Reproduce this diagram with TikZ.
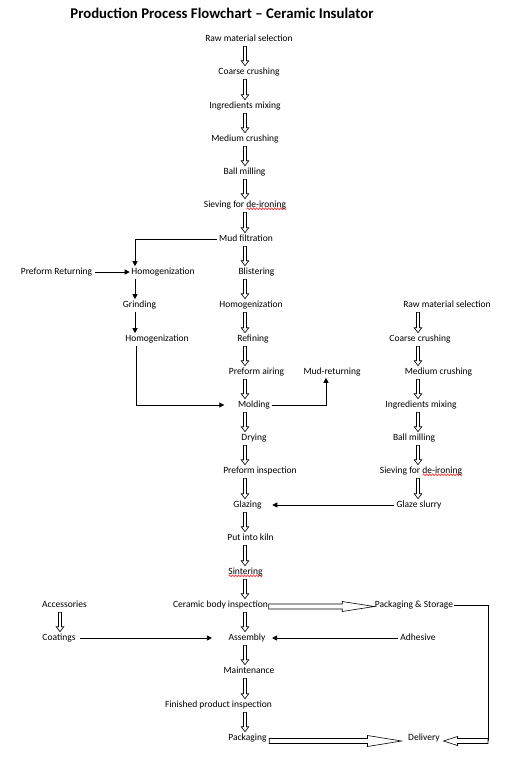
\documentclass[tikz,border=0pt]{standalone}
\usepackage{fontspec}
\setmainfont{Carlito}
\usetikzlibrary{arrows.meta,calc,decorations.pathmorphing}
\newlength\wavelen
\newcommand\wavy[1]{\settowidth\wavelen{#1}\rlap{\raisebox{-2.6pt}{\tikz[x=1pt,y=1pt]\draw[red,line width=0.5pt,decorate,decoration={snake,amplitude=0.9pt,segment length=3pt}] (0,0) -- (\wavelen,0);}}#1}
\newcommand\hollowarrow[5]{%
  \coordinate (ha-s) at (#1);
  \coordinate (ha-e) at (#2);
  \coordinate (ha-h) at ($(ha-e)!#5!(ha-s)$);
  \draw[harrow] ($(ha-s)!#3!90:(ha-e)$) -- ($(ha-h)!#3!90:(ha-e)$) -- ($(ha-h)!#4!90:(ha-e)$) -- (ha-e) -- ($(ha-h)!#4!-90:(ha-e)$) -- ($(ha-h)!#3!-90:(ha-e)$) -- ($(ha-s)!#3!-90:(ha-e)$) -- cycle;
}
% vertical hollow arrow between two nodes at column coordinate
\newcommand\vdown[3]{\hollowarrow{$(#1.south -| #3)+(0,2.5)$}{$(#2.north -| #3)+(0,-1.5)$}{1.5pt}{3.8pt}{5pt}}
\begin{document}
\begin{tikzpicture}[x=1pt,y=-1pt,
  every node/.style={font=\fontsize{9.5}{11}\selectfont, inner sep=0.5pt, text height=6.4pt, text depth=1.8pt},
  harrow/.style={draw=black, fill=white, line width=0.6pt, line join=miter},
  thin/.style={draw=black, line width=0.7pt},
  tip/.style={thin, -{Triangle[length=5pt,width=5pt]}}]
\useasboundingbox (0,0) rectangle (515,758);
\node[font=\fontsize{14.8}{17}\selectfont\bfseries, text height=10pt, text depth=3pt] (title) at (222,15) {Production Process Flowchart – Ceramic Insulator};
\coordinate (cx) at (245,0);
\coordinate (rx) at (418,0);
\coordinate (lx) at (135,0);
\coordinate (ax) at (60,0);
% main column
\node (raw1) at (249,39) {Raw material selection};
\node (coarse1) at (249,72) {Coarse crushing};
\node (mix1) at (245,106) {Ingredients mixing};
\node (med1) at (245,139) {Medium crushing};
\node (ball1) at (244.5,172) {Ball milling};
\node (sieve1) at (245,205) {Sieving for \wavy{de-ironing}};
\node (mud) at (246,239) {Mud filtration};
\node (blister) at (256.5,272) {Blistering};
\node (homo1) at (251,305) {Homogenization};
\node (refine) at (253,339) {Refining};
\node (airing) at (256.5,372) {Preform airing};
\node (molding) at (254,405) {Molding};
\node (drying) at (254,438) {Drying};
\node (inspect) at (260,471) {Preform inspection};
\node (glazing) at (247.5,505) {Glazing};
\node (kiln) at (250.5,538) {Put into kiln};
\node (sinter) at (245.5,572) {\wavy{Sintering}};
\node (ceramic) at (220.5,605) {Ceramic body inspection};
\node (assembly) at (247,638) {Assembly};
\node (maint) at (249,671) {Maintenance};
\node (finished) at (218.5,705) {Finished product inspection};
\node (packaging) at (247.5,738) {Packaging};
% left branch
\node (homoL) at (163,272) {Homogenization};
\node (preform) at (56.5,272) {Preform Returning};
\node (grind) at (139.5,305) {Grinding};
\node (homoL2) at (157,339) {Homogenization};
\node (mudret) at (332,372) {Mud-returning};
% right column
\node (raw2) at (447,305) {Raw material selection};
\node (coarse2) at (420,339) {Coarse crushing};
\node (med2) at (438.5,372) {Medium crushing};
\node (mix2) at (421,405) {Ingredients mixing};
\node (ball2) at (414,438) {Ball milling};
\node (sieve2) at (421,471) {Sieving for \wavy{de-ironing}};
\node (glaze) at (419,505) {Glaze slurry};
% bottom
\node (accessories) at (64.5,605) {Accessories};
\node (coatings) at (59,638) {Coatings};
\node (adhesive) at (418,638) {Adhesive};
\node (pstore) at (414,605) {Packaging \& Storage};
\node (delivery) at (424,738) {Delivery};
% main hollow arrows
\vdown{raw1}{coarse1}{cx}
\vdown{coarse1}{mix1}{cx}
\vdown{mix1}{med1}{cx}
\vdown{med1}{ball1}{cx}
\vdown{ball1}{sieve1}{cx}
\vdown{sieve1}{mud}{cx}
\vdown{mud}{blister}{cx}
\vdown{blister}{homo1}{cx}
\vdown{homo1}{refine}{cx}
\vdown{refine}{airing}{cx}
\vdown{airing}{molding}{cx}
\vdown{molding}{drying}{cx}
\vdown{drying}{inspect}{cx}
\vdown{inspect}{glazing}{cx}
\vdown{glazing}{kiln}{cx}
\vdown{kiln}{sinter}{cx}
\vdown{sinter}{ceramic}{cx}
\vdown{ceramic}{assembly}{cx}
\vdown{assembly}{maint}{cx}
\vdown{maint}{finished}{cx}
\vdown{finished}{packaging}{cx}
% right hollow arrows
\vdown{raw2}{coarse2}{rx}
\vdown{coarse2}{med2}{rx}
\vdown{med2}{mix2}{rx}
\vdown{mix2}{ball2}{rx}
\vdown{ball2}{sieve2}{rx}
\vdown{sieve2}{glaze}{rx}
\vdown{accessories}{coatings}{ax}
% thin arrows
\draw[tip] ([xshift=-2pt]mud.west) -| ($(homoL.north -| lx)+(0,-1)$);
\draw[tip] ([xshift=2pt]preform.east) -- ([xshift=-1pt]homoL.west);
\draw[tip] ($(homoL.south -| lx)+(0,2)$) -- ($(grind.north -| lx)+(0,-1)$);
\draw[tip] ($(grind.south -| lx)+(0,2)$) -- ($(homoL2.north -| lx)+(0,-1)$);
\draw[tip] ($(homoL2.south -| lx)+(1,2)$) |- ([xshift=-13pt]molding.west);
\coordinate (mr) at (326,0);
\draw[tip] ([xshift=1pt]molding.east) -| ($(mudret.south -| mr)+(0,1)$);
\draw[tip] ([xshift=-2pt]glaze.west) -- ([xshift=10pt]glazing.east);
\draw[tip] ([xshift=4pt]coatings.east) -- ([xshift=-16pt]assembly.west);
\draw[tip] ([xshift=-2pt]adhesive.west) -- ([xshift=6pt]assembly.east);
% big hollow arrows
\hollowarrow{$(ceramic.east)+(0,1.5)$}{$(pstore.west)+(0,1.5)$}{2.5pt}{5pt}{32pt}
\coordinate (px) at (488,0);
\draw[thin] (pstore.east) -| ($(delivery.east -| px)+(0,3)$);
\hollowarrow{$(delivery.east -| px)+(0,3)$}{$(delivery.east)+(3,3)$}{2.5pt}{4.5pt}{14pt}
\hollowarrow{$(packaging.east)+(2,3)$}{$(delivery.west)+(-6,3)$}{2.5pt}{5.5pt}{34pt}
\end{tikzpicture}
\end{document}
